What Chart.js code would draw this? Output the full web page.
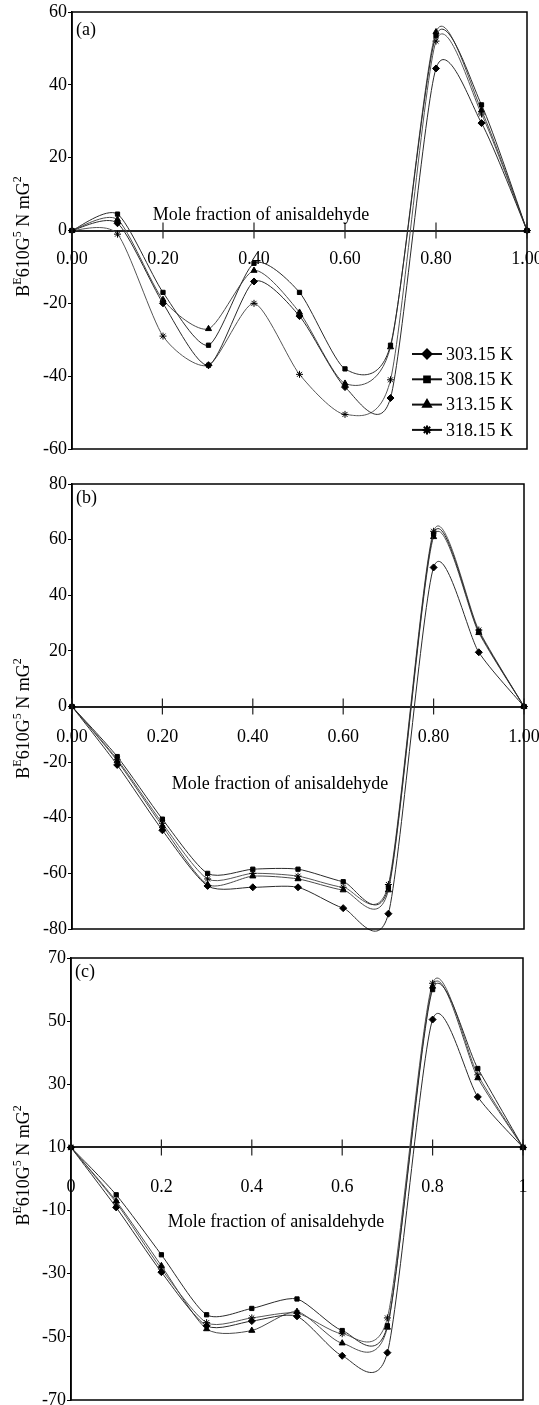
<!DOCTYPE html>
<html>
<head>
<meta charset="utf-8">
<script src="https://cdn.jsdelivr.net/npm/chart.js@4.4.1/dist/chart.umd.min.js"></script>
<style>
    html, body { margin: 0; padding: 0; background: #fff; overflow: hidden; }
    .panel { position: absolute; left: 0; width: 539px; }
</style>
</head>
<body>
<div class="panel" style="top:0;height:470px"><canvas id="chart-a"></canvas></div>
<div class="panel" style="top:470px;height:470px"><canvas id="chart-b"></canvas></div>
<div class="panel" style="top:940px;height:480px"><canvas id="chart-c"></canvas></div>
<script>
// ── Data ───────────────────────────────────────────────────────
const xFrac = [0, 0.1, 0.2, 0.3, 0.4, 0.5, 0.6, 0.7, 0.8, 0.9, 1.0];
const seriesLabels = ['303.15 K', '308.15 K', '313.15 K', '318.15 K'];

// panel (a)
const a303 = [0, 2, -20, -37, -14, -23.5, -43, -46, 44.5, 29.5, 0];
const a308 = [0, 4.5, -17, -31.5, -9, -17, -38, -31.5, 53.5, 34.5, 0];
const a313 = [0, 3, -19, -27, -11, -22.5, -42, -32, 54.5, 33, 0];
const a318 = [0, -1, -29, -37, -20, -39.5, -50.5, -41, 52, 32, 0];

// panel (b)
const b303 = [0, -21, -44.5, -64.5, -65, -65, -72.5, -74.5, 50, 19.5, 0];
const b308 = [0, -18, -40.5, -60, -58.5, -58.5, -63, -65, 62, 27, 0];
const b313 = [0, -19.5, -43, -64, -61, -62, -66, -66, 61, 26.5, 0];
const b318 = [0, -19, -42, -62, -60, -61, -65, -64, 63, 27.5, 0];

// panel (c) — axis crosses at the "10" label
const c303 = [10, -9, -29.5, -46.5, -45, -43.5, -56, -55, 50.5, 26, 10];
const c308 = [10, -5, -24, -43, -41, -38, -48, -46.5, 60, 35, 10];
const c313 = [10, -7, -27.5, -47.5, -48, -42, -52, -47, 61, 32, 10];
const c318 = [10, -7.5, -28.5, -45.5, -44, -42.5, -49, -44, 62, 33, 10];

const xTicks = [0, 0.2, 0.4, 0.6, 0.8, 1.0];
const xTickLabelsAB = ['0.00', '0.20', '0.40', '0.60', '0.80', '1.00'];
const xTickLabelsC = ['0', '0.2', '0.4', '0.6', '0.8', '1'];
const yTicksA = [-60, -40, -20, 0, 20, 40, 60];
const yTicksB = [-80, -60, -40, -20, 0, 20, 40, 60, 80];
const yTicksC = [-70, -50, -30, -10, 10, 30, 50, 70];

// ── Styling ────────────────────────────────────────────────────
const FONT = '"Liberation Serif", "Times New Roman", serif';
const pointStyles = ['rectRot', 'rect', 'triangle', 'star'];
const pointRadii = [3.5, 3, 3.5, 3.5];
const lineColors = ['#2a2a2a', '#2a2a2a', '#4a4a4a', '#555'];
const SMOOTH = 0.12;  // control-point reach, fraction of neighbour span

function drawMarker(ctx, style, r, x, y) {
    if (Chart.helpers && Chart.helpers.drawPoint) {
        Chart.helpers.drawPoint(ctx, { pointStyle: style, radius: r, rotation: 0, borderWidth: 1 }, x, y);
        return;
    }
    ctx.beginPath(); ctx.arc(x, y, r, 0, Math.PI * 2); ctx.fill();
}

// Spreadsheet-style smoothing: uniform cardinal-spline control points
// built from the points the line controller already placed.
const smoothPlugin = {
    id: 'smooth',
    beforeDatasetDraw(chart, args) {
        const pts = args.meta.data;
        const n = pts.length;
        for (let i = 0; i < n; i++) {
            const p = pts[i];
            const prev = pts[Math.max(i - 1, 0)];
            const next = pts[Math.min(i + 1, n - 1)];
            const dx = (next.x - prev.x) * SMOOTH;
            const dy = (next.y - prev.y) * SMOOTH;
            p.cp1x = p.x - dx; p.cp1y = p.y - dy;
            p.cp2x = p.x + dx; p.cp2y = p.y + dy;
        }
        if (args.meta.dataset) args.meta.dataset._pointsUpdated = true;
    },
};

// frame, crossing ticks, titles, panel letter, in-plot legend
const framePlugin = {
    id: 'frame',
    afterDraw(chart, args, o) {
        const { ctx, chartArea: ca, scales: { x, y } } = chart;
        const yc = y.getPixelForValue(o.crossAt);
        ctx.save();

        ctx.strokeStyle = '#000';
        ctx.lineWidth = 1.5;
        ctx.strokeRect(ca.left, ca.top, ca.right - ca.left, ca.bottom - ca.top);

        ctx.lineWidth = 1.2;
        ctx.strokeStyle = '#222';
        xTicks.forEach(v => {
            const px = x.getPixelForValue(v);
            ctx.beginPath();
            ctx.moveTo(px, yc - 8);
            ctx.lineTo(px, yc + 8);
            ctx.stroke();
        });

        ctx.fillStyle = '#000';
        ctx.textBaseline = 'middle';
        ctx.textAlign = 'left';
        ctx.font = '18px ' + FONT;
        ctx.fillText(o.letter, ca.left + 4, ca.top + o.letterDy);

        ctx.textAlign = 'center';
        ctx.fillText('Mole fraction of anisaldehyde', o.titleX, yc + o.titleDy);

        // rotated y title with superscripts
        const parts = [['B', 18, 0], ['E', 12, -8], ['610G', 18, 0], ['5', 12, -8], [' N mG', 18, 0], ['2', 12, -8]];
        let total = 0;
        parts.forEach(p => { ctx.font = p[1] + 'px ' + FONT; total += ctx.measureText(p[0]).width; });
        ctx.save();
        ctx.translate(29, yc + o.yTitleDy);
        ctx.rotate(-Math.PI / 2);
        ctx.textAlign = 'left';
        ctx.textBaseline = 'alphabetic';
        let cx = -total / 2;
        parts.forEach(p => {
            ctx.font = p[1] + 'px ' + FONT;
            ctx.fillText(p[0], cx, p[2]);
            cx += ctx.measureText(p[0]).width;
        });
        ctx.restore();

        if (o.legend) {
            const x0 = ca.right - 115;
            chart.data.datasets.forEach((ds, i) => {
                const ly = ca.top + 342 + i * 25.3;
                ctx.strokeStyle = '#111';
                ctx.lineWidth = 2;
                ctx.beginPath(); ctx.moveTo(x0, ly); ctx.lineTo(x0 + 30, ly); ctx.stroke();
                ctx.fillStyle = '#000';
                ctx.strokeStyle = '#000';
                drawMarker(ctx, ds.pointStyle, ds.pointRadius + 1, x0 + 15, ly);
                ctx.font = '18px ' + FONT;
                ctx.textAlign = 'left';
                ctx.textBaseline = 'middle';
                ctx.fillText(ds.label, x0 + 34, ly + 1);
            });
        }
        ctx.restore();
    },
};

function makeChart(id, series, cfg) {
    const ctx = document.getElementById(id);
    if (!ctx) return null;
    const datasets = series.map((ys, i) => ({
        label: seriesLabels[i],
        data: xFrac.map((xv, j) => ({ x: xv, y: ys[j] })),
        borderColor: lineColors[i],
        borderWidth: 1,
        pointStyle: pointStyles[i],
        pointRadius: pointRadii[i],
        pointBackgroundColor: '#000',
        pointBorderColor: '#000',
        pointBorderWidth: 1,
        tension: 0.4,
        fill: false,
        clip: 6,
    }));
    return new Chart(ctx, {
        type: 'line',
        data: { datasets },
        options: {
            responsive: true,
            maintainAspectRatio: false,
            animation: false,
            layout: { padding: cfg.padding },
            plugins: {
                legend: { display: false },
                tooltip: { enabled: false },
                frame: cfg.frame,
            },
            scales: {
                x: {
                    type: 'linear',
                    min: 0, max: 1,
                    position: { y: cfg.frame.crossAt },
                    afterBuildTicks: s => { s.ticks = xTicks.map(v => ({ value: v })); },
                    afterFit: s => { s.paddingLeft = 0; s.paddingRight = 0; },
                    ticks: {
                        callback: (v, i) => cfg.xLabels[i],
                        color: '#000',
                        font: { family: FONT, size: 18 },
                        maxRotation: 0, autoSkip: false,
                        padding: cfg.xTickPad,
                    },
                    grid: { drawOnChartArea: false, drawTicks: false },
                    border: { color: '#222', width: 2 },
                },
                y: {
                    type: 'linear',
                    min: cfg.yTicks[0], max: cfg.yTicks[cfg.yTicks.length - 1],
                    afterBuildTicks: s => { s.ticks = cfg.yTicks.map(v => ({ value: v })); },
                    afterFit: s => { s.width = cfg.left; s.paddingTop = 0; s.paddingBottom = 0; },
                    ticks: {
                        color: '#000',
                        font: { family: FONT, size: 18 },
                        padding: 1,
                    },
                    grid: { drawOnChartArea: false, drawTicks: true, tickLength: 4, color: '#000' },
                    border: { color: '#000', width: 1.5 },
                },
            },
        },
        plugins: [smoothPlugin, framePlugin],
    });
}

makeChart('chart-a', [a303, a308, a313, a318], {
    padding: { top: 12, bottom: 21, right: 12, left: 0 },
    left: 72, xLabels: xTickLabelsAB, yTicks: yTicksA, xTickPad: 18,
    frame: { crossAt: 0, letter: '(a)', letterDy: 18, titleX: 261, titleDy: -15, yTitleDy: 6, legend: true },
});
makeChart('chart-b', [b303, b308, b313, b318], {
    padding: { top: 14, bottom: 11, right: 15, left: 0 },
    left: 72, xLabels: xTickLabelsAB, yTicks: yTicksB, xTickPad: 20,
    frame: { crossAt: 0, letter: '(b)', letterDy: 14, titleX: 280, titleDy: 78, yTitleDy: 12, legend: false },
});
makeChart('chart-c', [c303, c308, c313, c318], {
    padding: { top: 18, bottom: 20, right: 16, left: 0 },
    left: 71, xLabels: xTickLabelsC, yTicks: yTicksC, xTickPad: 29,
    frame: { crossAt: 10, letter: '(c)', letterDy: 14, titleX: 276, titleDy: 75, yTitleDy: 18, legend: false },
});
</script>
</body>
</html>
